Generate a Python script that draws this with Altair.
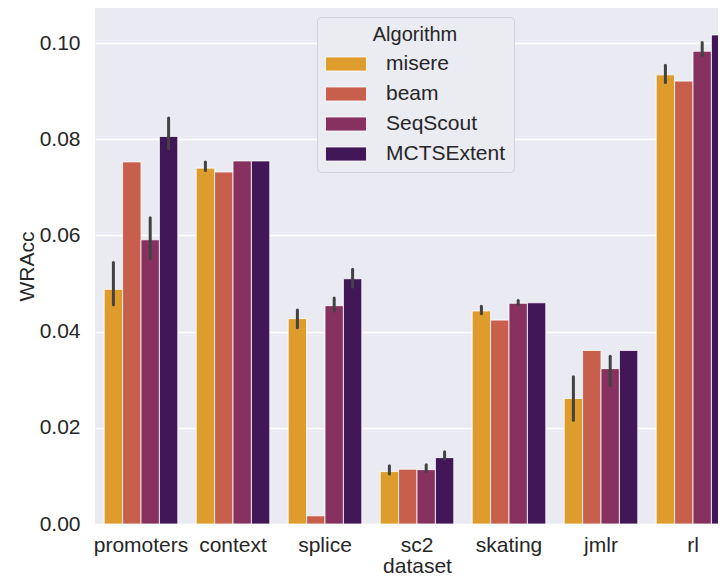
import altair as alt
import pandas as pd

datasets = ["promoters", "context", "splice", "sc2", "skating", "jmlr", "rl"]
algorithms = ["misere", "beam", "SeqScout", "MCTSExtent"]
colors = ["#de9c2c", "#c85e4c", "#86315f", "#421758"]

misere = [0.0488, 0.0740, 0.0427, 0.0109, 0.0443, 0.0261, 0.0934]
beam = [0.0753, 0.0732, 0.0017, 0.0114, 0.0424, 0.0361, 0.0921]
seqscout = [0.0591, 0.0755, 0.0454, 0.0113, 0.0459, 0.0323, 0.0983]
mcts = [0.0806, 0.0755, 0.0510, 0.0138, 0.0460, 0.0361, 0.1017]

misere_lo = [0.0456, 0.0735, 0.0408, 0.0104, 0.0437, 0.0216, 0.0918]
misere_hi = [0.0544, 0.0753, 0.0445, 0.0121, 0.0453, 0.0306, 0.0954]
beam_lo = [None] * 7
beam_hi = [None] * 7
seqscout_lo = [0.0552, None, 0.0443, 0.0109, 0.0456, 0.0288, 0.0975]
seqscout_hi = [0.0637, None, 0.0470, 0.0123, 0.0465, 0.0349, 0.1001]
mcts_lo = [0.0780, None, 0.0493, 0.0135, None, None, 0.1010]
mcts_hi = [0.0844, None, 0.0530, 0.0150, None, None, 0.1028]

values = [misere, beam, seqscout, mcts]
los = [misere_lo, beam_lo, seqscout_lo, mcts_lo]
his = [misere_hi, beam_hi, seqscout_hi, mcts_hi]

rows = []
err_rows = []
for a, vals, lo, hi in zip(algorithms, values, los, his):
    for i, d in enumerate(datasets):
        rows.append({"dataset": d, "Algorithm": a, "WRAcc": vals[i]})
        if lo[i] is not None:
            err_rows.append({"dataset": d, "Algorithm": a, "lo": lo[i], "hi": hi[i]})

df = pd.DataFrame(rows)
err = pd.DataFrame(err_rows)

FONT = "Liberation Sans"
TXT = "#262626"

x_scale = alt.Scale(paddingInner=0.2, paddingOuter=0.1, range=[0, 644])
x_enc = alt.X("dataset:N", sort=datasets, title="dataset", scale=x_scale,
              axis=alt.Axis(labelAngle=0, labelPadding=10, titlePadding=0))
xo_enc = alt.XOffset("Algorithm:N", sort=algorithms,
                     scale=alt.Scale(paddingInner=0, paddingOuter=0))
y_scale = alt.Scale(domain=[0, 0.1073], nice=False, zero=True)

# wide rectangle legend patch (drawn from a small nominal symbol size)
patch = "M-1,-0.667L2.905,-0.667L2.905,0.667L-1,0.667Z"

bars = alt.Chart(df).mark_bar(stroke="white", strokeWidth=0.8, clip=True).encode(
    x=x_enc,
    xOffset=xo_enc,
    y=alt.Y("WRAcc:Q", title="WRAcc", scale=y_scale,
            axis=alt.Axis(values=[0, 0.02, 0.04, 0.06, 0.08, 0.10], format=".2f",
                          labelPadding=15, titlePadding=2)),
    fill=alt.Fill("Algorithm:N", sort=algorithms,
                  scale=alt.Scale(domain=algorithms, range=colors),
                  legend=alt.Legend(
                      title="Algorithm", orient="none", legendX=222, legendY=9,
                      symbolType=patch, symbolSize=441,
                      symbolStrokeColor="white", symbolStrokeWidth=0.8,
                      labelOffset=39, rowPadding=9, padding=8, titlePadding=8,
                      titleAnchor="middle", titleAlign="center",
                      fillColor="#ebebf2", strokeColor="#d2d2d8",
                      cornerRadius=4)),
)

errbars = alt.Chart(err).mark_rule(color="#424242", strokeWidth=3, strokeCap="round",
                                    clip=True).encode(
    x=alt.X("dataset:N", sort=datasets, scale=x_scale),
    xOffset=alt.XOffset("Algorithm:N", sort=algorithms),
    y=alt.Y("lo:Q", scale=y_scale),
    y2="hi:Q",
)

chart = alt.layer(bars, errbars).properties(
    width=623, height=516,
    autosize=alt.AutoSizeParams(type="none"),
    padding={"left": 87, "top": 0, "right": 0, "bottom": 53},
).configure_view(
    fill="#eaeaf2", stroke=None
).configure_axis(
    domain=False, ticks=False, grid=False,
    labelFont=FONT, titleFont=FONT, labelFontSize=21, titleFontSize=21,
    labelColor=TXT, titleColor=TXT, titleFontWeight="normal",
).configure_axisY(
    grid=True, gridColor="white", gridWidth=1.4,
).configure_legend(
    labelFont=FONT, titleFont=FONT, labelFontSize=21, titleFontSize=20,
    labelColor=TXT, titleColor=TXT, titleFontWeight="normal",
)

chart.save("out.html", embed_options={"renderer": "svg", "actions": False})
